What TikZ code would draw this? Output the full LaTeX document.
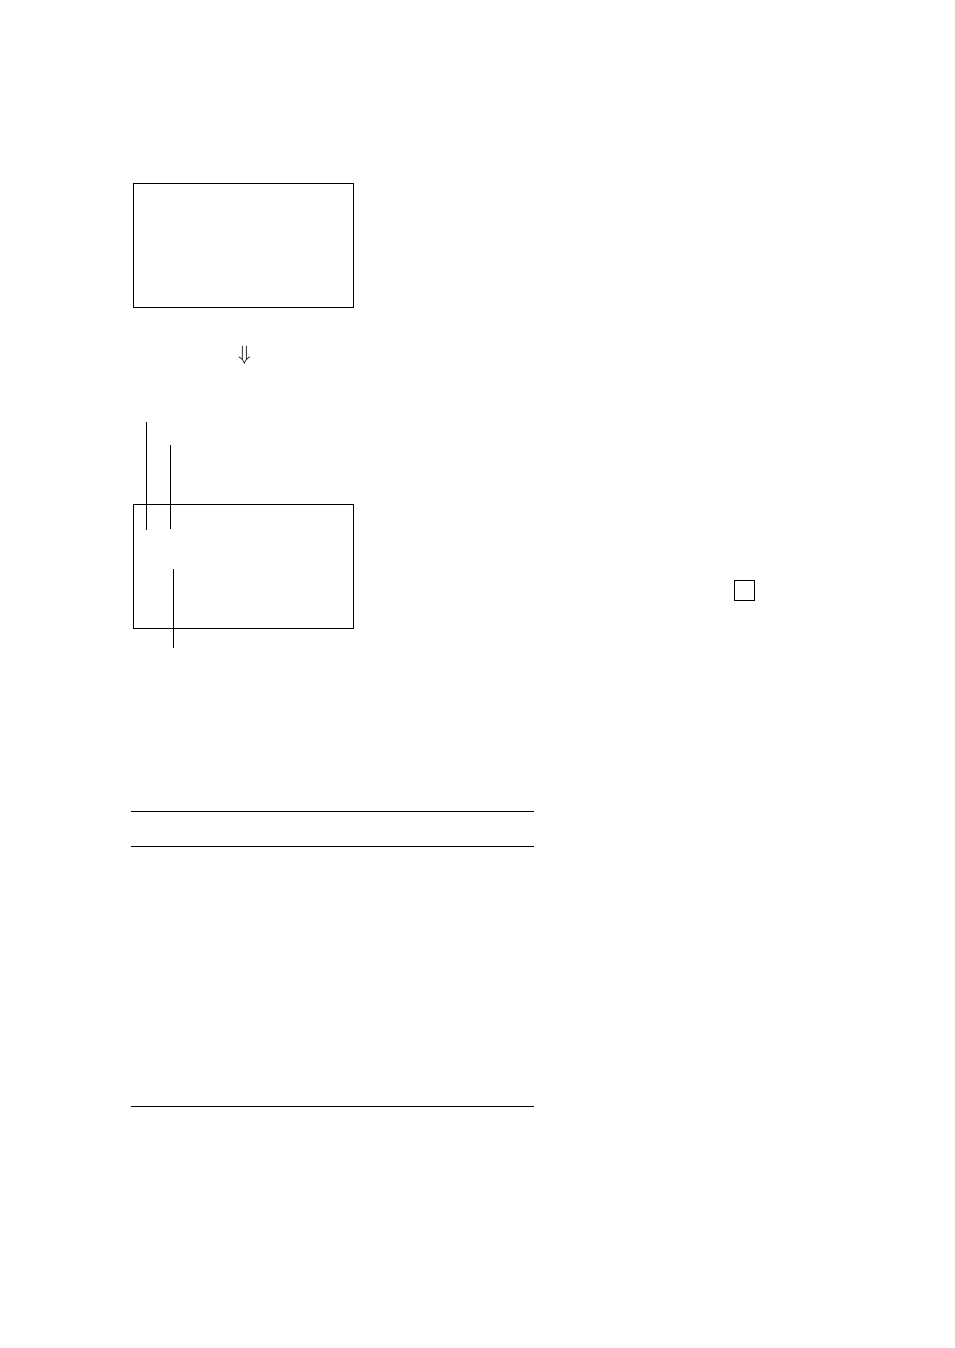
\documentclass[tikz,border=0pt]{standalone}
\usepackage{amsmath}
\usetikzlibrary{positioning}

\tikzset{
	framebox/.style={draw,line width=0.6pt,inner sep=0pt,minimum width=4.84cm,minimum height=2.75cm},
	tinybox/.style={draw,line width=0.6pt,inner sep=0pt,minimum size=0.44cm},
	rule/.style={line width=0.6pt}
}

\begin{document}
\begin{tikzpicture}[x=0.022013cm,y=-0.022013cm]

\useasboundingbox (0,0) rectangle (954,1348);

\node[framebox] (top) at (243.5,245.5) {};
\node[scale=1.3] (down) at (244.5,355) {$\Downarrow$};
\node[framebox] (bottom) at (243.5,566.5) {};
\node[tinybox] (small) at (744.5,590) {};

\foreach \x/\a/\b [count=\i] in {146/422/530,170/445/529,173/569/648}{
	\coordinate (v\i a) at (\x,\a);
	\coordinate (v\i b) at (\x,\b);
	\draw[rule] (v\i a)--(v\i b);
}

\foreach \y [count=\i] in {811,846,1106}{
	\coordinate (h\i a) at (131,\y);
	\coordinate (h\i b) at (534,\y);
	\draw[rule] (h\i a)--(h\i b);
}

\end{tikzpicture}
\end{document}
